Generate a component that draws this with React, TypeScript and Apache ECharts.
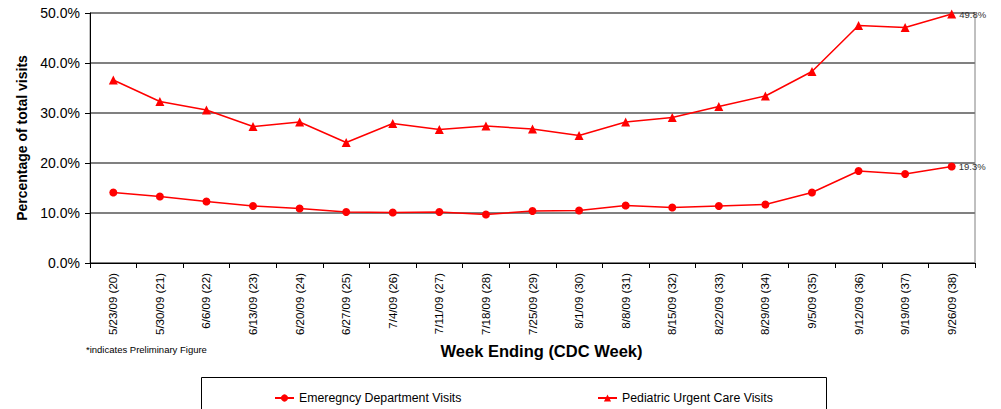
import React, { useEffect, useRef } from "react";
import * as echarts from "echarts";

const weeks = [
  "5/23/09 (20)", "5/30/09 (21)", "6/6/09 (22)", "6/13/09 (23)", "6/20/09 (24)",
  "6/27/09 (25)", "7/4/09 (26)", "7/11/09 (27)", "7/18/09 (28)", "7/25/09 (29)",
  "8/1/09 (30)", "8/8/09 (31)", "8/15/09 (32)", "8/22/09 (33)", "8/29/09 (34)",
  "9/5/09 (35)", "9/12/09 (36)", "9/19/09 (37)", "9/26/09 (38)",
];

const edVisits = [14.1, 13.3, 12.3, 11.4, 10.9, 10.2, 10.1, 10.2, 9.7, 10.4, 10.5, 11.5, 11.1, 11.4, 11.7, 14.1, 18.4, 17.8, 19.3];
const pedVisits = [36.6, 32.3, 30.6, 27.3, 28.2, 24.1, 27.9, 26.7, 27.4, 26.8, 25.5, 28.2, 29.1, 31.3, 33.4, 38.3, 47.5, 47.1, 49.8];

const FONT = "'Liberation Sans', Arial, sans-serif";

function withLastLabel(values: number[]) {
  return values.map((v, i) =>
    i === values.length - 1
      ? {
          value: v,
          label: {
            show: true,
            position: "right",
            distance: 3,
            formatter: (p: any) => p.value.toFixed(1) + "%",
            fontSize: 9.5,
            color: "#333333",
            fontFamily: FONT,
          },
        }
      : v
  );
}

export default function App() {
  const ref = useRef<HTMLDivElement>(null);
  useEffect(() => {
    if (!ref.current) return;
    const chart = echarts.init(ref.current, undefined, { renderer: "svg" });
    const legendText = { fontSize: 12.3, color: "#000", fontFamily: FONT };
    chart.setOption({
      animation: false,
      textStyle: { fontFamily: FONT },
      grid: {
        left: 90,
        right: 26,
        top: 13,
        bottom: 146,
        show: true,
        borderColor: "#808080",
        borderWidth: 1,
      },
      legend: [
        {
          data: ["Emeregncy Department Visits"],
          left: 269,
          top: 387,
          itemWidth: 19,
          itemHeight: 9,
          textStyle: legendText,
          itemGap: 0,
        },
        {
          data: ["Pediatric Urgent Care Visits"],
          left: 592,
          top: 387,
          itemWidth: 19,
          itemHeight: 9,
          textStyle: legendText,
          itemGap: 0,
        },
      ],
      graphic: [
        {
          type: "rect",
          shape: { x: 201.5, y: 377.5, width: 625, height: 40 },
          style: { fill: "none", stroke: "#000", lineWidth: 1 },
          z: -1,
        },
        {
          type: "text",
          x: 86,
          y: 344,
          style: {
            text: "*indicates Preliminary Figure",
            fontSize: 9.5,
            fill: "#000",
            fontFamily: FONT,
          },
        },
      ],
      xAxis: {
        type: "category",
        data: weeks,
        boundaryGap: true,
        name: "Week Ending (CDC Week)",
        nameLocation: "middle",
        nameGap: 71,
        nameTextStyle: {
          fontSize: 16.5,
          fontWeight: "bold",
          color: "#000",
          fontFamily: FONT,
          padding: [0, 0, 0, 18],
        },
        axisLine: { lineStyle: { color: "#000", width: 1 } },
        axisTick: { show: true, interval: 0, length: 5, lineStyle: { color: "#000" } },
        axisLabel: { interval: 0, rotate: 90, fontSize: 11.5, color: "#000", margin: 10, fontFamily: FONT },
        splitLine: { show: false },
      },
      yAxis: {
        type: "value",
        min: 0,
        max: 50,
        interval: 10,
        name: "Percentage of total visits",
        nameLocation: "middle",
        nameGap: 60,
        nameTextStyle: {
          fontSize: 14,
          fontWeight: "bold",
          color: "#000",
          fontFamily: FONT,
        },
        axisLine: { show: true, lineStyle: { color: "#000", width: 1 } },
        axisTick: { show: true, length: 5, lineStyle: { color: "#000" } },
        axisLabel: {
          formatter: (v: number) => v.toFixed(1) + "%",
          fontSize: 14,
          color: "#000",
          margin: 10,
          fontFamily: FONT,
        },
        splitLine: { show: true, lineStyle: { color: "#808080", width: 2 } },
      },
      series: [
        {
          name: "Emeregncy Department Visits",
          type: "line",
          data: withLastLabel(edVisits),
          symbol: "circle",
          symbolSize: 8,
          lineStyle: { color: "#FF0000", width: 1.5 },
          itemStyle: { color: "#FF0000" },
        },
        {
          name: "Pediatric Urgent Care Visits",
          type: "line",
          data: withLastLabel(pedVisits),
          symbol: "triangle",
          symbolSize: 9,
          lineStyle: { color: "#FF0000", width: 1.5 },
          itemStyle: { color: "#FF0000" },
        },
      ],
    });
    return () => chart.dispose();
  }, []);
  return (
    <div
      ref={ref}
      style={{ position: "fixed", left: 0, top: 0, width: 1001, height: 409, background: "#fff" }}
    />
  );
}
